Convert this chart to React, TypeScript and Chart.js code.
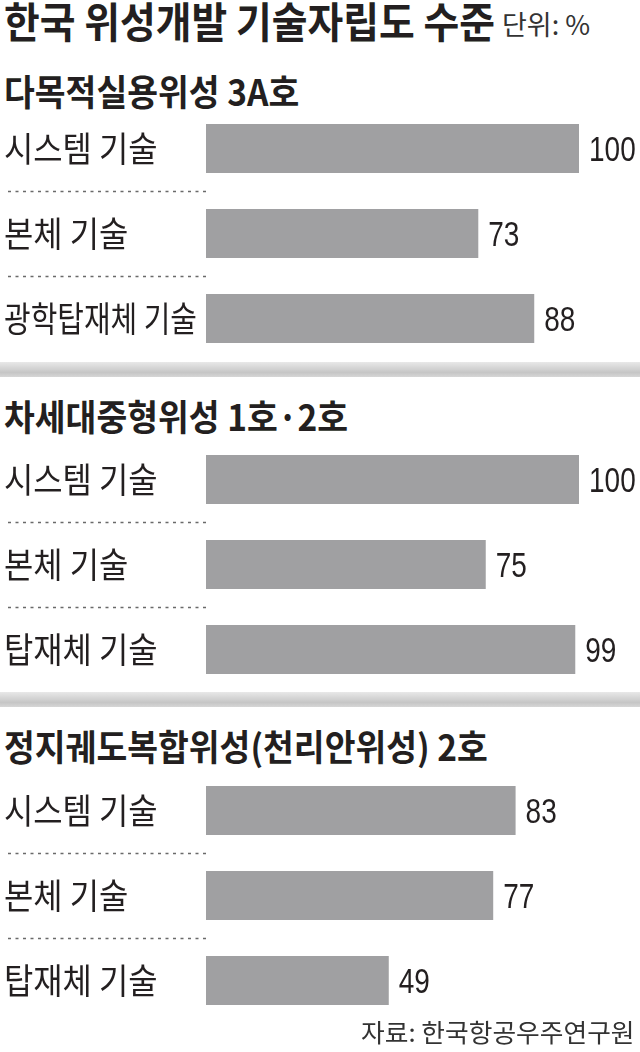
import React, { useEffect, useRef } from 'react';
import { Chart, registerables } from 'chart.js';

Chart.register(...registerables);

const TITLE = '한국 위성개발 기술자립도 수준';
const UNIT = '단위: %';
const SOURCE = '자료: 한국항공우주연구원';
const sectionTitles = ['다목적실용위성 3A호', '차세대중형위성 1호·2호', '정지궤도복합위성(천리안위성) 2호'];
const s1Categories = ['시스템 기술', '본체 기술', '광학탑재체 기술'];
const s1Values = [100, 73, 88];
const s2Categories = ['시스템 기술', '본체 기술', '탑재체 기술'];
const s2Values = [100, 75, 99];
const s3Categories = ['시스템 기술', '본체 기술', '탑재체 기술'];
const s3Values = [83, 77, 49];

const KFONT = '"Noto Sans CJK KR", "Noto Sans", sans-serif';
const INK = '#231f20';
const BAR = '#a0a0a2';

type SectionProps = { categories: string[]; values: number[]; top: number };

function SectionChart({ categories, values, top }: SectionProps) {
  const ref = useRef<HTMLCanvasElement>(null);
  useEffect(() => {
    const canvas = ref.current;
    if (!canvas) return;
    const deco = {
      id: 'deco',
      afterDatasetsDraw(chart: any) {
        const ctx = chart.ctx as CanvasRenderingContext2D;
        const ys = chart.scales.y;
        const meta = chart.getDatasetMeta(0);
        const left = chart.chartArea.left;
        ctx.save();
        ctx.strokeStyle = '#6a6a6a';
        ctx.lineWidth = 1.5;
        ctx.setLineDash([3, 4.5]);
        for (let i = 0; i < categories.length - 1; i++) {
          const yy = Math.round((ys.getPixelForValue(i) + ys.getPixelForValue(i + 1)) / 2) + 0.5;
          ctx.beginPath();
          ctx.moveTo(8, yy);
          ctx.lineTo(left, yy);
          ctx.stroke();
        }
        ctx.setLineDash([]);
        ctx.fillStyle = INK;
        categories.forEach((c, i) => {
          const yy = ys.getPixelForValue(i);
          ctx.save();
          ctx.font = `400 35px ${KFONT}`;
          const w = ctx.measureText(c).width;
          const sx = Math.min(0.91, 193 / w);
          ctx.translate(4, yy);
          ctx.scale(sx, 1);
          ctx.textAlign = 'left';
          ctx.textBaseline = 'middle';
          ctx.fillText(c, 0, 0);
          ctx.restore();
        });
        meta.data.forEach((bar: any, i: number) => {
          ctx.save();
          ctx.translate(bar.x + 10, bar.y + 12.5);
          ctx.scale(0.8, 1);
          ctx.font = '400 35px "Liberation Sans", Arial, sans-serif';
          ctx.textAlign = 'left';
          ctx.textBaseline = 'alphabetic';
          ctx.fillText(String(values[i]), 0, 0);
          ctx.restore();
        });
        ctx.restore();
      },
    };
    const chart = new Chart(canvas, {
      type: 'bar',
      data: {
        labels: categories,
        datasets: [
          {
            data: values,
            backgroundColor: BAR,
            borderWidth: 0,
            barPercentage: 49 / 85,
            categoryPercentage: 1,
          },
        ],
      },
      options: {
        indexAxis: 'y',
        animation: false,
        responsive: false,
        devicePixelRatio: 1,
        layout: { padding: { left: 206, right: 61, top: 0, bottom: 0 } },
        plugins: { legend: { display: false }, tooltip: { enabled: false } },
        scales: {
          x: { min: 0, max: 100, display: false },
          y: { display: false },
        },
      },
      plugins: [deco],
    } as any);
    return () => chart.destroy();
  }, [categories, values]);
  return (
    <canvas
      ref={ref}
      width={640}
      height={255}
      style={{ position: 'absolute', left: 0, top, width: 640, height: 255 }}
    />
  );
}

type TxtProps = {
  left?: number;
  right?: number;
  top: number;
  size: number;
  weight: number;
  scale: number;
  color?: string;
  children: React.ReactNode;
};

function Txt({ left, right, top, size, weight, scale, color, children }: TxtProps) {
  return (
    <div
      style={{
        position: 'absolute',
        left,
        right,
        top,
        fontSize: size,
        lineHeight: `${size}px`,
        fontFamily: KFONT,
        fontWeight: weight,
        whiteSpace: 'nowrap',
        color: color || INK,
        transform: `scaleX(${scale})`,
        transformOrigin: right !== undefined ? '100% 0' : '0 0',
      }}
    >
      {children}
    </div>
  );
}

function Separator({ top }: { top: number }) {
  return (
    <div
      style={{
        position: 'absolute',
        left: 0,
        top,
        width: 640,
        height: 15,
        background: 'linear-gradient(to bottom, #e8e8e8 0%, #c6c6c6 70%, #d6d6d6 100%)',
      }}
    />
  );
}

export default function App() {
  return (
    <div
      style={{
        position: 'absolute',
        left: 0,
        top: 0,
        width: 640,
        height: 1052,
        background: '#ffffff',
        overflow: 'hidden',
      }}
    >
      <Txt left={4} top={-1} size={42} weight={700} scale={0.925}>
        {TITLE}
      </Txt>
      <Txt left={502} top={10} size={27} weight={400} scale={1.0} color="#333333">
        {UNIT}
      </Txt>
      <Txt left={4} top={72} size={36} weight={700} scale={0.93}>
        {sectionTitles[0]}
      </Txt>
      <SectionChart categories={s1Categories} values={s1Values} top={106} />
      <Separator top={362} />
      <Txt left={4} top={397} size={36} weight={700} scale={0.93}>
        {sectionTitles[1]}
      </Txt>
      <SectionChart categories={s2Categories} values={s2Values} top={437} />
      <Separator top={692} />
      <Txt left={4} top={727} size={36} weight={700} scale={0.93}>
        {sectionTitles[2]}
      </Txt>
      <SectionChart categories={s3Categories} values={s3Values} top={768} />
      <Txt right={5} top={1019} size={25} weight={400} scale={1.03} color="#333333">
        {SOURCE}
      </Txt>
    </div>
  );
}
